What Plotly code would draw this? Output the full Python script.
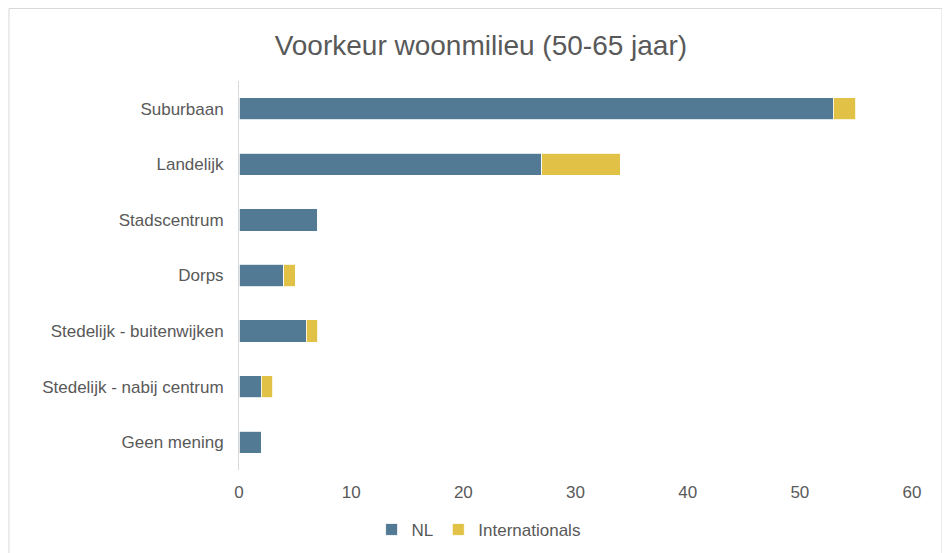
import plotly.graph_objects as go

categories = [
    "Suburbaan",
    "Landelijk",
    "Stadscentrum",
    "Dorps",
    "Stedelijk - buitenwijken",
    "Stedelijk - nabij centrum",
    "Geen mening",
]
nl = [53, 27, 7, 4, 6, 2, 2]
internationals = [2, 7, 0, 1, 1, 1, 0]

fig = go.Figure()
fig.add_trace(go.Bar(
    y=categories, x=nl, name="NL", orientation="h",
    marker=dict(color="#537A94", line=dict(color="white", width=0.8)),
))
fig.add_trace(go.Bar(
    y=categories, x=internationals, name="Internationals", orientation="h",
    marker=dict(color="#E2C246", line=dict(color="white", width=0.8)),
))

# page body has an 8px margin, so the figure is sized to fit inside the window
fig.update_layout(
    barmode="stack",
    bargap=0.6,
    width=942,
    height=545,
    template="plotly_white",
    font=dict(family="Arial", size=17, color="#595959"),
    title=dict(
        text="Voorkeur woonmilieu (50-65 jaar)",
        x=0.502, xanchor="center", y=0.932, yanchor="middle",
        font=dict(family="Arial", size=28, color="#595959"),
    ),
    margin=dict(l=231, r=38, t=73, b=83, autoexpand=False),
    legend=dict(
        orientation="h", x=0.356, xanchor="center", y=-0.154, yanchor="middle",
        traceorder="normal", font=dict(family="Arial", size=17, color="#595959"),
        itemwidth=30,
    ),
    xaxis=dict(
        range=[0, 60], tickmode="linear", tick0=0, dtick=10,
        showgrid=False, zeroline=False, showline=False, ticks="",
        ticklabelstandoff=10, automargin=False,
    ),
    yaxis=dict(
        autorange="reversed", showgrid=False, zeroline=False,
        showline=True, linecolor="#D9D9D9", linewidth=1,
        ticks="", ticklabelstandoff=11, automargin=False,
    ),
    plot_bgcolor="white",
    paper_bgcolor="white",
    shapes=[
        dict(type="rect", xref="paper", yref="paper",
             x0=-0.3418, x1=1.0446, y0=-0.26, y1=1.1864,
             line=dict(color="#D9D9D9", width=1), layer="below"),
    ],
)

fig.write_html("out.html")
